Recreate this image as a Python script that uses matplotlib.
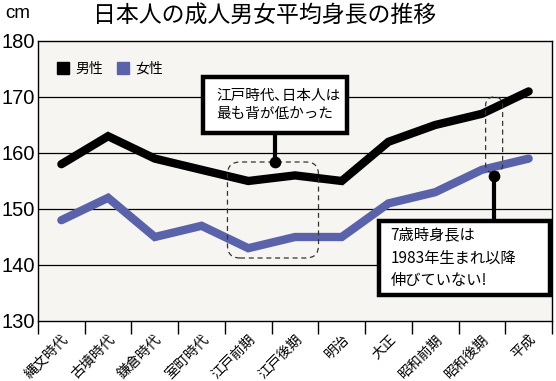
import matplotlib
matplotlib.use("Agg")
import matplotlib.pyplot as plt
from matplotlib import font_manager
from matplotlib.patches import Rectangle, FancyBboxPatch
from matplotlib.lines import Line2D

plt.rcParams['font.family'] = ['Noto Sans CJK JP', 'DejaVu Sans']

names = {f.name for f in font_manager.fontManager.ttflist}
num_font = 'Liberation Sans Narrow' if 'Liberation Sans Narrow' in names else 'Liberation Sans'
num_size = 17 if num_font == 'Liberation Sans Narrow' else 14.5

categories = ['縄文時代', '古墳時代', '鎌倉時代', '室町時代', '江戸前期', '江戸後期',
              '明治', '大正', '昭和前期', '昭和後期', '平成']
male = [158, 163, 159, 157, 155, 156, 155, 162, 165, 167, 171]
female = [148, 152, 145, 147, 143, 145, 145, 151, 153, 157, 159]
yticks = [130, 140, 150, 160, 170, 180]
title = '日本人の成人男女平均身長の推移'
note1 = '江戸時代､日本人は\n最も背が低かった'
note2 = '7歳時身長は\n1983年生まれ以降\n伸びていない!'

W, H = 556, 381
fig = plt.figure(figsize=(W / 100, H / 100), dpi=100)
fig.patch.set_facecolor('white')
L, R, T, B = 38, 552, 41, 321
ax = fig.add_axes([L / W, 1 - B / H, (R - L) / W, (B - T) / H])
ax.set_facecolor('#f7f5f1')

x = list(range(len(categories)))
ax.plot(x, male, color='black', lw=6, solid_joinstyle='miter', solid_capstyle='round', zorder=3)
ax.plot(x, female, color='#5a62aa', lw=6, solid_joinstyle='miter', solid_capstyle='round', zorder=3)

ax.set_xlim(-0.5, len(categories) - 0.5)
ax.set_ylim(130, 180)
ax.set_yticks(yticks)
ax.set_yticklabels([str(v) for v in yticks], fontsize=num_size, family=num_font)
ax.tick_params(axis='y', length=0, pad=2)
for v in yticks[1:-1]:
    ax.axhline(v, color='black', lw=0.9, zorder=1)

ax.set_xticks(x)
ax.set_xticklabels(categories, rotation=45, ha='right', va='top', rotation_mode='anchor', fontsize=10)
ax.tick_params(axis='x', which='major', length=0, pad=8)
ax.set_xticks([i - 0.5 for i in range(len(categories) + 1)], minor=True)
ax.tick_params(axis='x', which='minor', length=9, width=1.0, direction='out', color='black')
for s in ax.spines.values():
    s.set_color('black')
    s.set_linewidth(1.0)

# title and unit
fig.text(0.475, 0.958, title, ha='center', va='center', fontsize=16.5)
fig.text(18 / W, 1 - 13 / H, 'cm', ha='center', va='center', fontsize=13.5, family=num_font)

# legend
handles = [Line2D([], [], marker='s', ls='', color='black', ms=8, label='男性'),
           Line2D([], [], marker='s', ls='', color='#5a62aa', ms=8, label='女性')]
ax.legend(handles=handles, loc='upper left', bbox_to_anchor=(0.022, 0.955), ncol=2, frameon=False,
          fontsize=10, handlelength=0.8, handletextpad=0.5, columnspacing=1.0,
          borderaxespad=0.2)

# pixel helpers for annotations
def dx(px):
    return (px - 61) / 46.7

def dy(py):
    return 130 + (B - py) / 5.6

asp = (1 / 5.6) / (1 / 46.7)

# annotation 1
ax.add_patch(FancyBboxPatch((dx(227), dy(258)), dx(318) - dx(227), dy(162) - dy(258),
                            boxstyle='round,pad=0,rounding_size=0.27', mutation_aspect=asp,
                            fill=False, ls=(0, (4, 3)), lw=0.9, ec='#333333', zorder=4))
ax.plot([dx(275), dx(275)], [dy(162), dy(133)], color='black', lw=3, zorder=5)
ax.scatter([dx(275)], [dy(162)], s=55, color='black', zorder=6)
ax.add_patch(Rectangle((dx(203), dy(133)), dx(346) - dx(203), dy(77) - dy(133),
                       fc='white', ec='black', lw=3.2, zorder=6))
ax.text(dx(216), (dy(133) + dy(77)) / 2, note1, ha='left', va='center', fontsize=10.5,
        linespacing=1.3, zorder=7)

# annotation 2
ax.add_patch(FancyBboxPatch((dx(485), dy(173)), dx(502) - dx(485), dy(97) - dy(173),
                            boxstyle='round,pad=0,rounding_size=0.18', mutation_aspect=asp,
                            fill=False, ls=(0, (4, 3)), lw=0.9, ec='#333333', zorder=4))
ax.plot([dx(493), dx(493)], [dy(176), dy(221)], color='black', lw=3, zorder=5)
ax.scatter([dx(493)], [dy(176)], s=55, color='black', zorder=6)
ax.add_patch(Rectangle((dx(378), dy(295)), dx(549) - dx(378), dy(221) - dy(295),
                       fc='white', ec='black', lw=3.2, zorder=6, clip_on=False))
ax.text(dx(390), (dy(295) + dy(221)) / 2, note2, ha='left', va='center', fontsize=11,
        linespacing=1.45, zorder=7)

fig.savefig('out.png', dpi=100)
